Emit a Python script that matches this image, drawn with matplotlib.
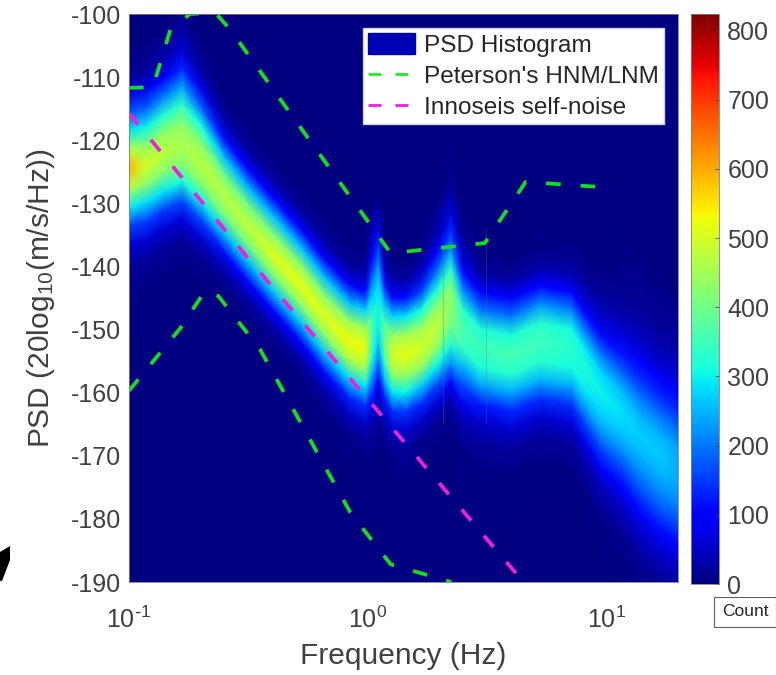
# -*- coding: utf-8 -*-
import matplotlib
matplotlib.use('Agg')
import matplotlib.pyplot as plt
import numpy as np
from matplotlib.patches import Patch, Polygon
from matplotlib.transforms import IdentityTransform

plt.rcParams['font.family'] = ['Liberation Sans', 'DejaVu Sans']
plt.rcParams['axes.unicode_minus'] = False

W, H = 776, 675
GREY = '#404040'

#%% data

hist_freq = [0.1, 0.117, 0.142, 0.167, 0.199, 0.253, 0.323, 0.411, 0.524, 0.666,
             0.847, 0.98, 1.05, 1.11, 1.18, 1.27, 1.44, 1.67, 1.93, 2.23,
             2.51, 2.98, 3.99, 5.33, 7.13, 9.52, 11.6, 14.0, 17.0, 20.0]

# PSD of the ridge at each frequency [dB]
ridge_psd = [-124.5, -124, -122, -120.5, -123.5, -129, -134, -138.5, -143, -148,
             -152, -153, -151, -149, -152, -154, -154, -153, -150, -146.5,
             -150, -153, -154, -152, -153, -160, -163, -167, -170, -172]

# distance from the ridge [dB]
ridge_offset = [30, 20, 15, 12, 9, 6, 3, 0, -3, -6, -9, -12, -15, -20, -30]

# one list per frequency, counts at each ridge_offset
hist_columns = [
    [0, 0, 15, 70, 170, 290, 470, 590, 470, 300, 160, 70, 25, 5, 0],
    [0, 0, 20, 80, 180, 300, 430, 500, 430, 280, 150, 60, 20, 4, 0],
    [0, 5, 35, 100, 210, 330, 440, 470, 420, 290, 150, 60, 20, 4, 0],
    [0, 10, 60, 130, 230, 340, 430, 460, 430, 320, 170, 70, 20, 4, 0],
    [0, 3, 25, 80, 180, 310, 430, 470, 430, 300, 160, 60, 15, 2, 0],
    [0, 0, 6, 30, 110, 260, 410, 470, 410, 260, 110, 30, 6, 1, 0],
    [0, 0, 5, 25, 100, 250, 410, 480, 410, 250, 100, 25, 5, 1, 0],
    [0, 0, 5, 25, 100, 260, 430, 510, 430, 260, 100, 25, 5, 1, 0],
    [0, 0, 5, 25, 100, 260, 440, 520, 430, 260, 100, 25, 5, 1, 0],
    [0, 0, 5, 25, 100, 260, 430, 510, 430, 260, 110, 30, 8, 1, 0],
    [0, 0, 4, 20, 90, 260, 450, 530, 460, 280, 130, 45, 12, 2, 0],
    [0, 2, 8, 30, 110, 280, 460, 530, 460, 290, 140, 50, 15, 3, 0],
    [0, 5, 60, 120, 200, 280, 340, 350, 320, 240, 140, 60, 25, 6, 0],
    [0, 5, 80, 150, 220, 280, 300, 300, 270, 200, 110, 50, 20, 5, 0],
    [0, 0, 5, 40, 120, 250, 360, 400, 360, 260, 130, 50, 15, 3, 0],
    [0, 0, 5, 30, 110, 280, 440, 500, 440, 290, 140, 50, 15, 3, 0],
    [0, 0, 4, 25, 110, 290, 460, 520, 450, 300, 150, 60, 20, 4, 0],
    [0, 2, 12, 50, 150, 310, 450, 500, 440, 270, 130, 45, 12, 2, 0],
    [0, 5, 30, 90, 190, 320, 440, 480, 440, 300, 160, 60, 15, 2, 0],
    [0, 10, 70, 140, 230, 340, 420, 430, 400, 320, 220, 100, 30, 4, 0],
    [0, 2, 15, 50, 110, 220, 330, 360, 340, 250, 160, 80, 35, 8, 0],
    [0, 0, 5, 25, 90, 200, 320, 350, 320, 230, 120, 50, 20, 5, 0],
    [0, 0, 5, 25, 90, 200, 320, 360, 330, 240, 130, 55, 20, 5, 0],
    [0, 2, 8, 30, 100, 220, 330, 350, 330, 250, 140, 60, 20, 4, 0],
    [0, 2, 10, 35, 100, 210, 310, 330, 310, 240, 140, 60, 20, 4, 0],
    [0, 5, 20, 55, 110, 200, 280, 300, 280, 230, 160, 90, 40, 8, 0],
    [0, 10, 35, 70, 120, 190, 260, 285, 270, 220, 160, 100, 50, 10, 0],
    [0, 20, 50, 90, 140, 200, 250, 270, 250, 210, 160, 110, 60, 15, 0],
    [0, 20, 50, 90, 140, 200, 250, 265, 250, 215, 165, 110, 60, 15, 0],
    [0, 25, 55, 95, 140, 195, 235, 245, 235, 205, 160, 105, 55, 15, 0],
]

# thin vertical streaks in the histogram
streak_freq = [2.08, 3.13]
streak_top = [-137, -134]
streak_bottom = [-165, -165]

hnm_freq = [0.1, 0.126, 0.149, 0.18, 0.23, 0.266, 1.25, 3.1, 4.6, 10.2]
hnm_psd = [-111.7, -111.6, -102.5, -100, -99.8, -102.5, -137.9, -136.3, -126.6, -127.5]

lnm_freq = [0.1, 0.164, 0.208, 0.237, 0.355, 0.847, 1.25, 2.24]
lnm_psd = [-159.7, -149.8, -143.9, -144.7, -153.2, -179, -187.2, -190]

self_freq = [0.1, 0.32, 1.0, 4.5]
self_psd = [-115.7, -139, -161, -190]

y_ticks = [-100, -110, -120, -130, -140, -150, -160, -170, -180, -190]
x_ticks = [0.1, 1, 10]
x_labels = ['$\\mathregular{10^{\\text{-}1}}$', '$\\mathregular{10^{0}}$', '$\\mathregular{10^{1}}$']
cbar_ticks = [0, 100, 200, 300, 400, 500, 600, 700, 800]

#%% figure

fig = plt.figure(figsize=(W / 100, H / 100), dpi=100)
ax = fig.add_axes([129 / W, 1 - 582 / H, 549 / W, 568 / H])
ax.set_facecolor(plt.get_cmap('jet')(0))

counts = np.array(hist_columns, dtype=float).T
xx = np.tile(hist_freq, (len(ridge_offset), 1))
yy = np.add.outer(ridge_offset, ridge_psd)
mesh = ax.pcolormesh(xx, yy, counts, shading='gouraud', cmap='jet', vmin=0, vmax=824)

ax.vlines(streak_freq, streak_bottom, streak_top, color='#607080', lw=0.6, alpha=0.4)

ax.set_xscale('log')
ax.set_xlim(0.1, 20)
ax.set_ylim(-190, -100)
ax.set_yticks(y_ticks)
ax.set_xticks(x_ticks)
ax.set_xticklabels(x_labels)
ax.minorticks_off()
ax.tick_params(labelsize=18, colors=GREY, length=0, pad=6)
ax.tick_params(axis='x', pad=18)
ax.set_xlabel('Frequency (Hz)', fontsize=21.5, color=GREY, labelpad=6)
ax.set_ylabel('PSD (20log$\\mathregular{_{10}}$(m/s/Hz))', fontsize=21.5, color=GREY, labelpad=10)
for sp in ax.spines.values():
    sp.set_color('#808080')
    sp.set_linewidth(0.6)

ax.plot(hnm_freq, hnm_psd, color='#11e11b', lw=2.7, dashes=(3.9, 5.3))
ax.plot(lnm_freq, lnm_psd, color='#11e11b', lw=2.7, dashes=(3.9, 5.3))
ax.plot(self_freq, self_psd, color='#f01fd8', lw=2.7, dashes=(3.9, 5.3))

handles = [
    Patch(facecolor='#0000b4', edgecolor='#0000b4'),
    plt.Line2D([], [], color='#22ee22', lw=2, dashes=(4.7, 5)),
    plt.Line2D([], [], color='#f01fd8', lw=2, dashes=(4.7, 5)),
]
leg = ax.legend(handles, ['PSD Histogram', "Peterson's HNM/LNM", 'Innoseis self-noise'],
                loc='upper left', bbox_to_anchor=(234 / 549, 1 - 14 / 568),
                fontsize=17.6, fancybox=False, framealpha=1, edgecolor='#d0d0d0',
                borderaxespad=0, borderpad=0.2, labelspacing=0.3,
                handlelength=1.92, handleheight=0.95, handletextpad=0.37)
for t in leg.get_texts():
    t.set_color('#262626')

cax = fig.add_axes([691 / W, 1 - 584 / H, 28 / W, 570 / H])
cbar = fig.colorbar(mesh, cax=cax, ticks=cbar_ticks)
cbar.ax.tick_params(labelsize=18, colors=GREY, length=3, direction='in', pad=6, width=0.6)
cbar.outline.set_edgecolor('#808080')
cbar.outline.set_linewidth(0.6)

fig.text(745 / W, 1 - 612 / H, 'Count', fontsize=12.5, color='#262626', ha='center', va='center',
         bbox=dict(boxstyle='square,pad=0.45', fc='white', ec='#606060', lw=0.8))

# stray black mark at the left edge of the source image
fig.add_artist(Polygon([[0, H - 552], [10, H - 546], [10, H - 560], [2, H - 581], [0, H - 581]],
                       closed=True, fc='black', ec='none', transform=IdentityTransform()))

fig.savefig('out.png', dpi=100)
